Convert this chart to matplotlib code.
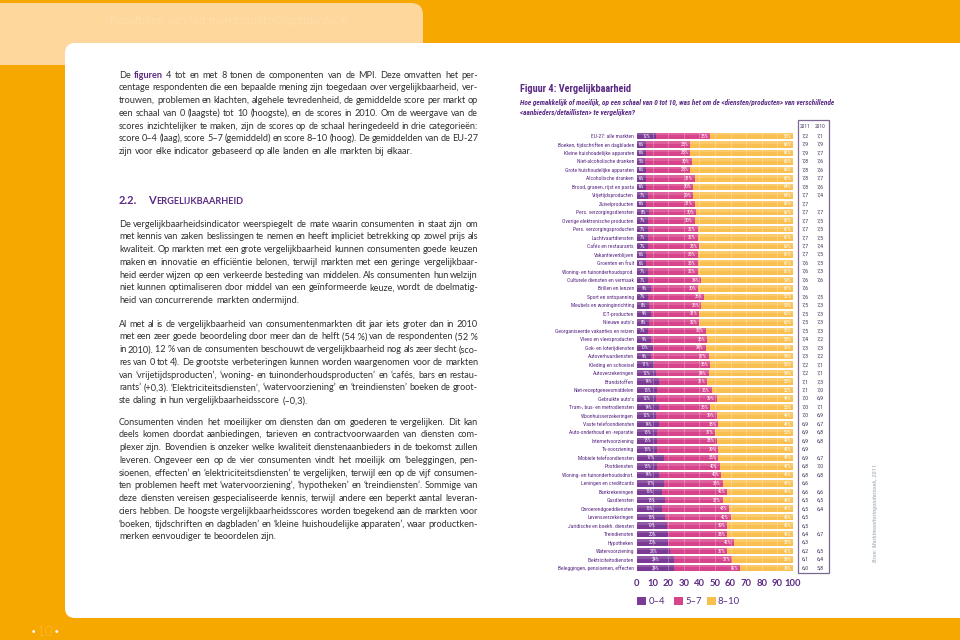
import matplotlib
matplotlib.use("Agg")
import matplotlib.pyplot as plt
from matplotlib import font_manager
from matplotlib.patches import Rectangle, FancyBboxPatch

# ---------------- data ----------------
categories = [
    "EU-27: alle markten", "Boeken, tijdschriften en dagbladen", "Kleine huishoudelijke apparaten",
    "Niet-alcoholische dranken", "Grote huishoudelijke apparaten", "Alcoholische dranken",
    "Brood, granen, rijst en pasta", "Vrijetijdsproducten", "Zuivelproducten",
    "Pers. verzorgingsdiensten", "Overige elektronische producten", "Pers. verzorgingsproducten",
    "Luchtvaartdiensten", "Cafés en restaurants", "Vakantieverblijven", "Groenten en fruit",
    "Woning- en tuinonderhoudsprod.", "Culturele diensten en vermaak", "Brillen en lenzen",
    "Sport en ontspanning", "Meubels en woninginrichting", "ICT-producten", "Nieuwe auto's",
    "Georganiseerde vakanties en reizen", "Vlees en vleesproducten", "Gok- en loterijdiensten",
    "Autoverhuurdiensten", "Kleding en schoeisel", "Autoverzekeringen", "Brandstoffen",
    "Niet-receptgeneesmiddelen", "Gebruikte auto's", "Tram-, bus- en metrodiensten",
    "Woonhuisverzekeringen", "Vaste telefoondiensten", "Auto-onderhoud en -reparatie",
    "Internetvoorziening", "Tv-voorziening", "Mobiele telefoondiensten", "Postdiensten",
    "Woning- en tuinonderhoudsdnst.", "Leningen en creditcards", "Bankrekeningen", "Gasdiensten",
    "Onroerendgoeddiensten", "Levensverzekeringen", "Juridische en boekh. diensten",
    "Treindiensten", "Hypotheken", "Watervoorziening", "Elektriciteitsdiensten",
    "Beleggingen, pensioenen, effecten",
]
low = [12, 6, 6, 5, 6, 6, 6, 7, 6, 8, 7, 7, 7, 7, 6, 6, 7, 7, 9, 7, 8, 9, 8, 7, 9, 10,
       9, 11, 12, 14, 13, 12, 14, 12, 14, 13, 13, 13, 17, 13, 14, 17, 16, 18, 16, 18, 19, 20,
       20, 21, 24, 24]
mid = [35, 28, 28, 30, 28, 31, 30, 29, 31, 30, 30, 32, 32, 33, 33, 33, 32, 34, 30, 36, 33, 31,
       32, 37, 36, 34, 37, 36, 34, 31, 35, 39, 33, 39, 38, 37, 38, 39, 35, 40, 40, 38, 42, 37,
       43, 42, 39, 38, 42, 37, 37, 42]
high = [53, 66, 66, 65, 66, 63, 64, 64, 63, 62, 63, 61, 61, 60, 61, 61, 61, 59, 61, 57, 59, 60,
        60, 56, 55, 56, 54, 53, 54, 55, 52, 49, 53, 49, 48, 50, 49, 48, 48, 47, 46, 45, 42, 45,
        41, 40, 42, 42, 38, 42, 39, 34]
score2011 = ["7,2", "7,9", "7,9", "7,8", "7,8", "7,8", "7,8", "7,7", "7,7", "7,7", "7,7", "7,7",
             "7,7", "7,7", "7,7", "7,6", "7,6", "7,6", "7,6", "7,6", "7,5", "7,5", "7,5", "7,5",
             "7,4", "7,3", "7,3", "7,2", "7,2", "7,1", "7,1", "7,0", "7,0", "7,0", "6,9", "6,9",
             "6,9", "6,9", "6,9", "6,8", "6,8", "6,6", "6,6", "6,5", "6,5", "6,5", "6,5", "6,4",
             "6,3", "6,2", "6,1", "6,0"]
score2010 = ["7,1", "7,9", "7,7", "7,6", "7,6", "7,7", "7,6", "7,4", "", "7,7", "7,5", "7,5",
             "7,5", "7,4", "7,5", "7,5", "7,3", "7,6", "", "7,5", "7,3", "7,3", "7,3", "7,3",
             "7,2", "7,3", "7,2", "7,1", "7,1", "7,3", "7,0", "6,9", "7,1", "6,9", "6,7", "6,8",
             "6,8", "", "6,7", "7,0", "6,8", "", "6,6", "6,5", "6,4", "", "", "6,7",
             "", "6,5", "6,4", "5,8"]
xticks = [0, 10, 20, 30, 40, 50, 60, 70, 80, 90, 100]
legend_labels = ["0–4", "5–7", "8–10"]

# ---------------- fonts & colours ----------------
available = {f.name for f in font_manager.fontManager.ttflist}
def pick(*names):
    for n in names:
        if n in available:
            return n
    return "DejaVu Sans"
BODY = pick("Lato", "Open Sans", "Liberation Sans")
NARROW = pick("Liberation Sans Narrow", "Roboto Condensed", "Open Sans Condensed", "Lato")

ORANGE = "#F6A800"
LIGHT = "#FDD79B"
PURPLE = "#5B2A84"
TXT = "#303030"
C_LOW, C_MID, C_HIGH = "#7A3A95", "#D7448C", "#FAC04F"

fig = plt.figure(figsize=(9.6, 6.4), dpi=100)
fig.patch.set_facecolor(ORANGE)
bg = fig.add_axes([0, 0, 1, 1])
bg.set_xlim(0, 960)
bg.set_ylim(640, 0)
bg.axis("off")
bg.set_zorder(0)

# page frame
bg.add_patch(FancyBboxPatch((0, 3), 423, 62, boxstyle="round,pad=0,rounding_size=12",
                            fc=LIGHT, ec="none"))
bg.add_patch(Rectangle((0, 3), 30, 62, fc=LIGHT, ec="none"))
bg.add_patch(Rectangle((0, 45), 423, 20, fc=LIGHT, ec="none"))
bg.add_patch(FancyBboxPatch((65, 43), 960, 575, boxstyle="round,pad=0,rounding_size=10",
                            fc="white", ec="none"))
bg.text(110, 20, "Resultaten van het marktmonitoringonderzoek", color="white", fontsize=8.7,
        family=BODY, fontweight="light", va="center", ha="left")
bg.text(45, 633, "•\u200a10\u200a•", color="white", fontsize=9, family=BODY,
        fontweight="light", va="center", ha="center")

renderer = fig.canvas.get_renderer()

def draw_par(lines, x0, y0, width, size=6.55, lh=12.75):
    em = size * 100 / 72
    for i, line in enumerate(lines):
        y = y0 + i * lh + 2.6
        texts = []
        for w in line.split(" "):
            bold = w.startswith("**")
            word = w.replace("**", "")
            t = bg.text(0, y, word, fontsize=size, family=BODY, va="baseline", ha="left",
                        color=PURPLE if bold else TXT,
                        fontweight="bold" if bold else "normal")
            texts.append(t)
        widths = [t.get_window_extent(renderer).width for t in texts]
        if i < len(lines) - 1 and len(texts) > 1:
            gap = max((width - sum(widths)) / (len(texts) - 1), 0.17 * em)
        else:
            gap = em * 0.24
        x = x0
        for t, wd in zip(texts, widths):
            t.set_x(x)
            x += wd + gap

NB = "\u00a0"
par1 = [
    "De **figuren** 4 tot en met 8 tonen de componenten van de MPI. Deze omvatten het per-",
    "centage respondenten die een bepaalde mening zijn toegedaan over vergelijkbaarheid, ver-",
    "trouwen, problemen en klachten, algehele tevredenheid, de gemiddelde score per markt op",
    "een schaal van 0 (laagste) tot 10 (hoogste), en de scores in 2010. Om de weergave van de",
    "scores inzichtelijker te maken, zijn de scores op de schaal heringedeeld in drie categorieën:",
    "score 0–4 (laag), score 5–7 (gemiddeld) en score 8–10 (hoog). De gemiddelden van de EU-27",
    "zijn voor elke indicator gebaseerd op alle landen en alle markten bij elkaar.",
]
par2 = [
    "De vergelijkbaarheidsindicator weerspiegelt de mate waarin consumenten in staat zijn om",
    "met kennis van zaken beslissingen te nemen en heeft impliciet betrekking op zowel prijs als",
    "kwaliteit. Op markten met een grote vergelijkbaarheid kunnen consumenten goede keuzen",
    "maken en innovatie en efficiëntie belonen, terwijl markten met een geringe vergelijkbaar-",
    "heid eerder wijzen op een verkeerde besteding van middelen. Als consumenten hun welzijn",
    "niet kunnen optimaliseren door middel van een geïnformeerde keuze, wordt de doelmatig-",
    "heid van concurrerende markten ondermijnd.",
]
par3 = [
    "Al met al is de vergelijkbaarheid van consumentenmarkten dit jaar iets groter dan in 2010",
    f"met een zeer goede beoordeling door meer dan de helft (54{NB}%) van de respondenten (52{NB}%",
    f"in 2010). 12{NB}% van de consumenten beschouwt de vergelijkbaarheid nog als zeer slecht (sco-",
    "res van 0 tot 4). De grootste verbeteringen kunnen worden waargenomen voor de markten",
    "van ‘vrijetijdsproducten’, ‘woning- en tuinonderhoudsproducten’ en ‘cafés, bars en restau-",
    "rants’ (+0,3). ‘Elektriciteitsdiensten’, ‘watervoorziening’ en ‘treindiensten’ boeken de groot-",
    "ste daling in hun vergelijkbaarheidsscore (–0,3).",
]
par4 = [
    "Consumenten vinden het moeilijker om diensten dan om goederen te vergelijken. Dit kan",
    "deels komen doordat aanbiedingen, tarieven en contractvoorwaarden van diensten com-",
    "plexer zijn. Bovendien is onzeker welke kwaliteit dienstenaanbieders in de toekomst zullen",
    "leveren. Ongeveer een op de vier consumenten vindt het moeilijk om ‘beleggingen, pen-",
    "sioenen, effecten’ en ‘elektriciteitsdiensten’ te vergelijken, terwijl een op de vijf consumen-",
    "ten problemen heeft met ‘watervoorziening’, ‘hypotheken’ en ‘treindiensten’. Sommige van",
    "deze diensten vereisen gespecialiseerde kennis, terwijl andere een beperkt aantal leveran-",
    "ciers hebben. De hoogste vergelijkbaarheidsscores worden toegekend aan de markten voor",
    "‘boeken, tijdschriften en dagbladen’ en ‘kleine huishoudelijke apparaten’, waar productken-",
    "merken eenvoudiger te beoordelen zijn.",
]
X0, W = 119, 359
draw_par(par1, X0, 75, W)
draw_par(par2, X0, 224, W)
draw_par(par3, X0, 324, W)
draw_par(par4, X0, 422, W)

# heading 2.2 in small caps
bg.text(X0, 203.5, "2.2.", fontsize=8.0, family=BODY, fontweight="bold", color=PURPLE,
        va="baseline", ha="left")
x = 148
for s, fs in [("V", 8.0), ("ERGELIJKBAARHEID", 6.6)]:
    t = bg.text(x, 203.5, s, fontsize=fs, family=BODY, fontweight="bold", color=PURPLE,
                va="baseline", ha="left")
    x += t.get_window_extent(renderer).width + 0.6

# figure title
bg.text(520, 89, "Figuur 4: Vergelijkbaarheid", fontsize=7.4, family=NARROW, fontweight="bold",
        color=PURPLE, va="center", ha="left")
bg.text(520, 102, "Hoe gemakkelijk of moeilijk, op een schaal van 0 tot 10, was het om de "
        "<diensten/producten> van verschillende", fontsize=5.2, family=NARROW,
        fontweight="bold", style="italic", color=PURPLE, va="center", ha="left")
bg.text(520, 112, "<aanbieders/detaillisten> te vergelijken?", fontsize=5.2, family=NARROW,
        fontweight="bold", style="italic", color=PURPLE, va="center", ha="left")

# ---------------- chart ----------------
n = len(categories)
ROW0, STEP = 136.0, (568.0 - 136.0) / (n - 1)
top_px, bot_px = 131.0, 573.0
ax = fig.add_axes([637 / 960, 1 - bot_px / 640, (793 - 637) / 960, (bot_px - top_px) / 640])
ax.set_zorder(2)
ax.patch.set_alpha(0)
ypos = list(range(n))
left3 = [a + b for a, b in zip(low, mid)]
H = 0.76
ax.barh(ypos, low, height=H, color=C_LOW, edgecolor="none")
ax.barh(ypos, mid, left=low, height=H, color=C_MID, edgecolor="none")
ax.barh(ypos, high, left=left3, height=H, color=C_HIGH, edgecolor="none")
# lighter upper band (bevel look of the original bars)
ax.barh([p - H * 0.3 for p in ypos], [100] * n, height=H * 0.4, color="white", alpha=0.16,
        edgecolor="none", zorder=3)
for gx in range(10, 100, 10):
    ax.axvline(gx, color="white", lw=0.4, alpha=0.45, zorder=3)
ax.set_xlim(0, 100)
ax.set_ylim((bot_px - ROW0) / STEP, -(ROW0 - top_px) / STEP)
for i in range(n):
    ax.text(low[i] / 2, i, f"{low[i]}%", ha="center", va="center", color="white",
            fontsize=3.4, family=NARROW, zorder=4)
    ax.text(left3[i] - 1.2, i, f"{mid[i]}%", ha="right", va="center", color="white",
            fontsize=3.4, family=NARROW, zorder=4)
    ax.text(99, i, f"{high[i]}%", ha="right", va="center", color="white",
            fontsize=3.4, family=NARROW, zorder=4)
ax.set_yticks(ypos)
ax.set_yticklabels(categories, fontsize=4.1, family=NARROW, color=PURPLE)
ax.set_xticks(xticks)
ax.set_xticklabels([str(v) for v in xticks], fontsize=6.8, family=BODY, fontweight="bold",
                   color=PURPLE)
ax.tick_params(axis="y", length=0, pad=2.2)
ax.tick_params(axis="x", length=0, pad=4.5)
for sp in ax.spines.values():
    sp.set_visible(False)

# score table
bg.add_patch(Rectangle((797.5, 120), 31.5, 453, fill=False, ec="#7C6792", lw=0.9))
bg.text(805, 126, "2011", fontsize=4.0, family=NARROW, color="#4A3A62", ha="center", va="center")
bg.text(820, 126, "2010", fontsize=4.0, family=NARROW, color="#4A3A62", ha="center", va="center")
for i in range(n):
    y = ROW0 + i * STEP
    bg.text(805, y, score2011[i], fontsize=4.3, family=NARROW, color="#4A3A62",
            ha="center", va="center")
    if score2010[i]:
        bg.text(820, y, score2010[i], fontsize=4.3, family=NARROW, color="#4A3A62",
                ha="center", va="center")

# legend
for (lx, tx), col, lab in zip([(637, 649), (674, 685), (707, 718)], [C_LOW, C_MID, C_HIGH],
                              legend_labels):
    bg.add_patch(Rectangle((lx, 597), 8.5, 8, fc=col, ec="none"))
    bg.text(tx, 602, lab, fontsize=6.8, family=BODY, color=PURPLE, ha="left", va="center")

# source
bg.text(875, 513, "Bron: Marktmonitoringonderzoek, 2011", rotation=90, fontsize=4.6,
        family=NARROW, fontweight="bold", style="italic", color="#B7C2CD",
        ha="center", va="center")

fig.savefig("out.png", dpi=100, facecolor=ORANGE)
